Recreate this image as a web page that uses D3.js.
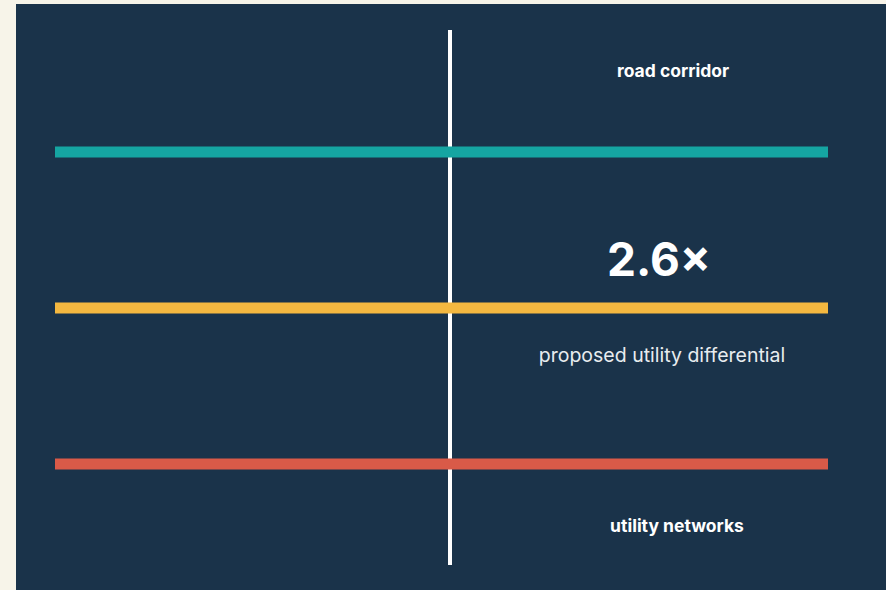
<!DOCTYPE html>
<html>
<head>
<meta charset="utf-8">
<script src="https://cdn.jsdelivr.net/npm/d3@7"></script>
<style>
  html, body { margin: 0; padding: 0; background: #f7f4e9; }
  svg { display: block; }
</style>
</head>
<body>
<div id="chart"></div>
<script>
// layers stacked top to bottom
const layers = ['road', 'proposed', 'utility'];
const layerColors = ['#15a5a2', '#f4b840', '#d95a48'];
const topLabel = 'road corridor';
const bottomLabel = 'utility networks';
const multiplier = 2.6;
const multiplierLabel = 'proposed utility differential';
const dividerAt = 0.511;

const width = 886;
const height = 590;

const svg = d3.select('#chart').append('svg')
  .attr('width', width)
  .attr('height', height);

svg.append('rect')
  .attr('x', 16)
  .attr('y', 4)
  .attr('width', width - 16)
  .attr('height', height - 4)
  .attr('fill', '#1a334a');

const x = d3.scaleLinear().domain([0, 1]).range([55, 828]);
const y = d3.scalePoint().domain(layers).range([152, 464]);

// vertical divider
svg.append('line')
  .attr('x1', x(dividerAt))
  .attr('x2', x(dividerAt))
  .attr('y1', 30)
  .attr('y2', 565)
  .attr('stroke', '#ffffff')
  .attr('stroke-width', 4);

svg.selectAll('.layer').data(layers).enter().append('rect')
  .attr('class', 'layer')
  .attr('x', x(0))
  .attr('y', d => y(d) - 5.5)
  .attr('width', x(1) - x(0))
  .attr('height', 11)
  .attr('fill', (d, i) => layerColors[i]);

const font = 'Inter, "Noto Sans", sans-serif';

svg.append('text')
  .attr('x', 673)
  .attr('y', 77)
  .attr('text-anchor', 'middle')
  .attr('font-family', font)
  .attr('font-weight', 700)
  .attr('font-size', 17.5)
  .attr('fill', '#ffffff')
  .text(topLabel);

svg.append('text')
  .attr('x', 659)
  .attr('y', 276)
  .attr('text-anchor', 'middle')
  .attr('font-family', font)
  .attr('font-weight', 700)
  .attr('font-size', 46)
  .attr('fill', '#ffffff')
  .text(d3.format('.1f')(multiplier) + '×');

svg.append('text')
  .attr('x', 662)
  .attr('y', 362)
  .attr('text-anchor', 'middle')
  .attr('font-family', font)
  .attr('font-weight', 400)
  .attr('font-size', 19.5)
  .attr('fill', '#e8ecef')
  .text(multiplierLabel);

svg.append('text')
  .attr('x', 677)
  .attr('y', 532)
  .attr('text-anchor', 'middle')
  .attr('font-family', font)
  .attr('font-weight', 700)
  .attr('font-size', 17.5)
  .attr('fill', '#ffffff')
  .text(bottomLabel);
</script>
</body>
</html>
